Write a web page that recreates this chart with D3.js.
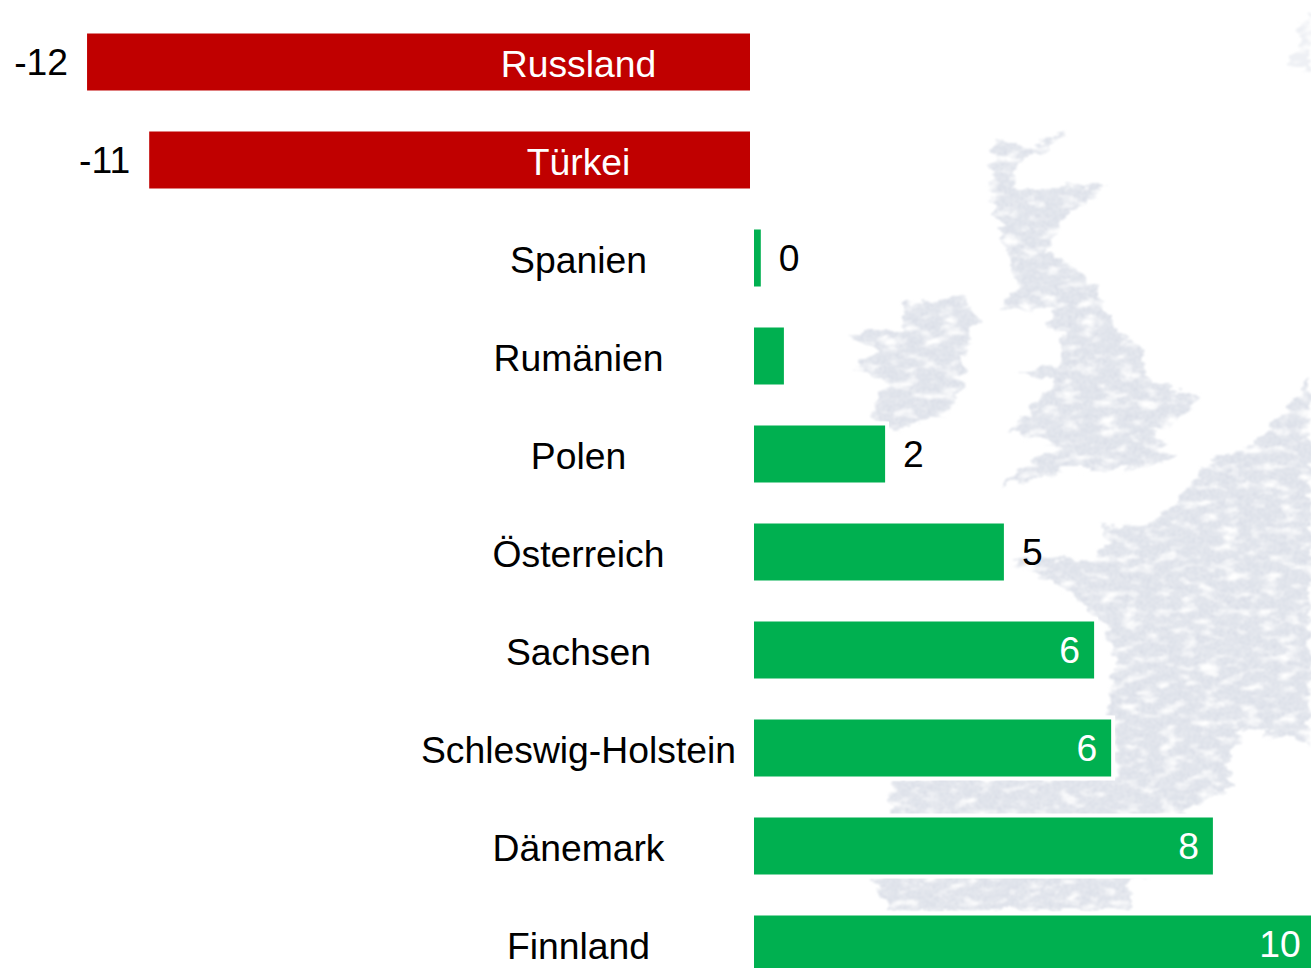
<!DOCTYPE html>
<html>
<head>
<meta charset="utf-8">
<script src="https://cdn.jsdelivr.net/npm/d3@7"></script>
<style>
  html, body { margin: 0; padding: 0; background: #fff; overflow: hidden; }
  text { font-family: "Liberation Sans", Arial, sans-serif; }
</style>
</head>
<body>
<div id="chart"></div>
<script>
var svgWidth = 1311;
var svgHeight = 968;

var categories = ["Russland", "Türkei", "Spanien", "Rumänien", "Polen", "Österreich", "Sachsen", "Schleswig-Holstein", "Dänemark", "Finnland"];
var values = [-12.09, -10.96, 0.16, 0.58, 2.42, 4.58, 6.22, 6.53, 8.38, 10.23];
var valueLabels = ["-12", "-11", "0", "", "2", "5", "6", "6", "8", "10"];

// rough outlines of the faint map behind the bars
var mapShapes = [
  [[997,140],[1030,148],[1067,132],[1040,155],[1017,163],[1013,190],[1103,186],[1063,220],[1047,253],[1070,263],[1097,290],[1110,323],[1140,347],[1150,383],[1200,397],[1183,413],[1150,437],[1180,458],[1117,470],[1067,470],[1000,487],[1037,457],[1063,447],[1007,430],[1037,403],[1053,383],[1017,373],[1060,367],[1063,333],[1047,327],[1057,307],[1000,310],[1017,287],[1007,247],[990,197],[993,160]],
  [[963,293],[977,320],[963,347],[963,390],[950,413],[893,433],[870,413],[887,380],[853,367],[877,353],[850,333],[900,333],[907,303],[950,300]],
  [[1097,517],[1107,530],[1150,523],[1183,500],[1167,517],[1200,467],[1260,440],[1311,380],[1311,743],[1243,730],[1227,767],[1230,787],[1183,812],[1190,860],[1133,880],[1130,910],[890,910],[873,880],[893,840],[890,812],[893,780],[1117,777],[1110,713],[1117,670],[1103,623],[1063,587],[1010,560],[1090,560],[1110,545]]
];
var mapFragment = [[1311,12],[1300,25],[1298,50],[1288,68],[1311,72]];

var x = d3.scaleLinear()
  .domain([0, 1])
  .range([752, 807]);

var y = d3.scaleBand()
  .domain(categories)
  .range([13, 993])
  .paddingInner(41 / 98)
  .paddingOuter(41 / 196);

var svg = d3.select("#chart")
  .append("svg")
  .attr("width", svgWidth)
  .attr("height", svgHeight)
  .style("display", "block");

var defs = svg.append("defs");

// fine woven dots, the map is a coarse halftone in the original
var dots = defs.append("pattern")
  .attr("id", "mapDots")
  .attr("width", 3)
  .attr("height", 3)
  .attr("patternUnits", "userSpaceOnUse");
dots.append("rect").attr("width", 3).attr("height", 3).attr("fill", "#e6e9ef");
dots.append("rect").attr("width", 2).attr("height", 2).attr("fill", "#dadee7");

// frayed edges and streaky holes
var filter = defs.append("filter")
  .attr("id", "mapTexture")
  .attr("filterUnits", "userSpaceOnUse")
  .attr("x", 820).attr("y", 0)
  .attr("width", 500).attr("height", 968);
filter.append("feTurbulence")
  .attr("type", "fractalNoise")
  .attr("baseFrequency", "0.05 0.11")
  .attr("numOctaves", 4)
  .attr("seed", 11)
  .attr("result", "noise");
filter.append("feDisplacementMap")
  .attr("in", "SourceGraphic")
  .attr("in2", "noise")
  .attr("scale", 18)
  .attr("xChannelSelector", "R")
  .attr("yChannelSelector", "G")
  .attr("result", "frayed");
filter.append("feColorMatrix")
  .attr("in", "noise")
  .attr("type", "matrix")
  .attr("values", "0 0 0 0 0  0 0 0 0 0  0 0 0 0 0  0 3.4 0 0 -0.7")
  .attr("result", "holes");
filter.append("feComposite")
  .attr("in", "frayed")
  .attr("in2", "holes")
  .attr("operator", "in")
  .attr("result", "cut");
filter.append("feGaussianBlur")
  .attr("in", "cut")
  .attr("stdDeviation", 1.1);

var mapGroup = svg.append("g")
  .attr("filter", "url(#mapTexture)");

mapGroup.selectAll("path")
  .data(mapShapes)
  .enter()
  .append("path")
  .attr("d", d3.line().curve(d3.curveLinearClosed))
  .attr("fill", "url(#mapDots)");

mapGroup.append("path")
  .attr("d", d3.line().curve(d3.curveLinearClosed)(mapFragment))
  .attr("fill", "#eef0f4");

// bars, with a thin white edge like in the original
svg.selectAll(".bar")
  .data(categories)
  .enter()
  .append("rect")
  .attr("class", "bar")
  .attr("x", function(d, i) { return values[i] < 0 ? x(values[i]) : x(0) + 2; })
  .attr("y", function(d) { return y(d); })
  .attr("width", function(d, i) { return Math.abs(x(values[i]) - x(0)) - 2; })
  .attr("height", y.bandwidth())
  .attr("fill", function(d, i) { return values[i] < 0 ? "#c00000" : "#00b050"; })
  .attr("stroke", "#fff")
  .attr("stroke-width", 8)
  .attr("paint-order", "stroke");

// category names
svg.selectAll(".cat")
  .data(categories)
  .enter()
  .append("text")
  .attr("class", "cat")
  .attr("x", 578.5)
  .attr("y", function(d) { return y(d) + 43.5; })
  .attr("text-anchor", "middle")
  .attr("font-size", "37.3px")
  .attr("fill", function(d, i) { return values[i] < 0 ? "#fff" : "#000"; })
  .text(function(d) { return d; });

// value labels: inside the long bars, outside the short ones
svg.selectAll(".val")
  .data(categories)
  .enter()
  .append("text")
  .attr("class", "val")
  .attr("x", function(d, i) {
    if (values[i] < 0) return x(values[i]) - 19;
    if (values[i] > 6) return x(values[i]) - 14;
    return x(values[i]) + 18;
  })
  .attr("y", function(d) { return y(d) + 41.5; })
  .attr("text-anchor", function(d, i) { return (values[i] < 0 || values[i] > 6) ? "end" : "start"; })
  .attr("font-size", "37.3px")
  .attr("fill", function(d, i) { return values[i] > 6 ? "#fff" : "#000"; })
  .text(function(d, i) { return valueLabels[i]; });
</script>
</body>
</html>
